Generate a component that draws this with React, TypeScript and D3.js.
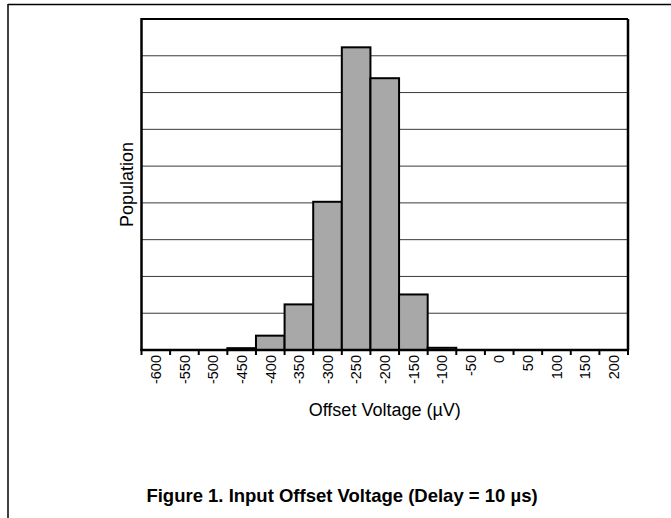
import React from "react";
import * as d3 from "d3";

const categories = ["-600","-550","-500","-450","-400","-350","-300","-250","-200","-150","-100","-50","0","50","100","150","200"];
const population = [0,0,0,0.05,0.39,1.24,4.03,8.23,7.39,1.51,0.06,0,0,0,0,0,0];
const gridValues = [1,2,3,4,5,6,7,8];
const xTitle = "Offset Voltage (\u00B5V)";
const yTitle = "Population";
const figTitle = "Figure 1. Input Offset Voltage (Delay = 10 \u00B5s)";

export default function App() {
  const W = 671, H = 518;
  const left = 141.5, right = 628, top = 19, bottom = 350;
  const x = d3.scaleBand<string>().domain(categories).range([left, right]).padding(0);
  const y = d3.scaleLinear().domain([0, 9]).range([bottom, top]);
  const bw = x.bandwidth();
  const font = "Arial, 'Liberation Sans', Helvetica, sans-serif";
  const tickXs = categories.map((c) => x(c) as number).concat([right]);

  return (
    <svg width={W} height={H} style={{ position: "absolute", left: 0, top: 0, background: "#fff" }} fontFamily={font}>
      {/* page frame */}
      <line x1={8} y1={4.5} x2={W} y2={4.5} stroke="#000" strokeWidth={1.5} />
      <line x1={8} y1={4} x2={8} y2={H} stroke="#000" strokeWidth={1.5} />

      {/* gridlines */}
      {gridValues.map((g) => (
        <line key={g} x1={left} x2={right} y1={y(g)} y2={y(g)} stroke="#3a3a3a" strokeWidth={1} />
      ))}

      {/* bars */}
      {categories.map((c, i) =>
        population[i] > 0 ? (
          <rect
            key={c}
            x={x(c) as number}
            y={y(population[i])}
            width={bw}
            height={bottom - y(population[i])}
            fill="#a8a8a8"
            stroke="#000"
            strokeWidth={2}
          />
        ) : null
      )}

      {/* plot border */}
      <line x1={left} x2={right} y1={top} y2={top} stroke="#000" strokeWidth={2} />
      <line x1={right} x2={right} y1={top} y2={bottom} stroke="#000" strokeWidth={2.5} />
      <line x1={left} x2={left} y1={top - 1} y2={bottom + 1} stroke="#000" strokeWidth={2.5} />
      <line x1={left - 1} x2={right + 1} y1={bottom} y2={bottom} stroke="#000" strokeWidth={2.5} />

      {/* ticks */}
      {tickXs.map((tx, i) => (
        <line key={i} x1={tx} x2={tx} y1={bottom} y2={bottom + 5} stroke="#000" strokeWidth={2} />
      ))}

      {/* tick labels */}
      {categories.map((c) => {
        const cx = (x(c) as number) + bw / 2;
        const cy = bottom + 5;
        return (
          <text
            key={c}
            x={0}
            y={0}
            transform={`translate(${cx},${cy}) rotate(-90)`}
            textAnchor="end"
            dy="0.36em"
            fontSize={14.5}
            fill="#000"
          >
            {c}
          </text>
        );
      })}

      {/* axis titles */}
      <text x={(left + right) / 2} y={416} textAnchor="middle" fontSize={18} fill="#000">
        {xTitle}
      </text>
      <text
        transform={`translate(133,${(top + bottom) / 2}) rotate(-90)`}
        textAnchor="middle"
        fontSize={18}
        fill="#000"
      >
        {yTitle}
      </text>

      {/* figure title */}
      <text x={342} y={502} textAnchor="middle" fontSize={18.5} fontWeight="bold" fill="#000">
        {figTitle}
      </text>
    </svg>
  );
}
